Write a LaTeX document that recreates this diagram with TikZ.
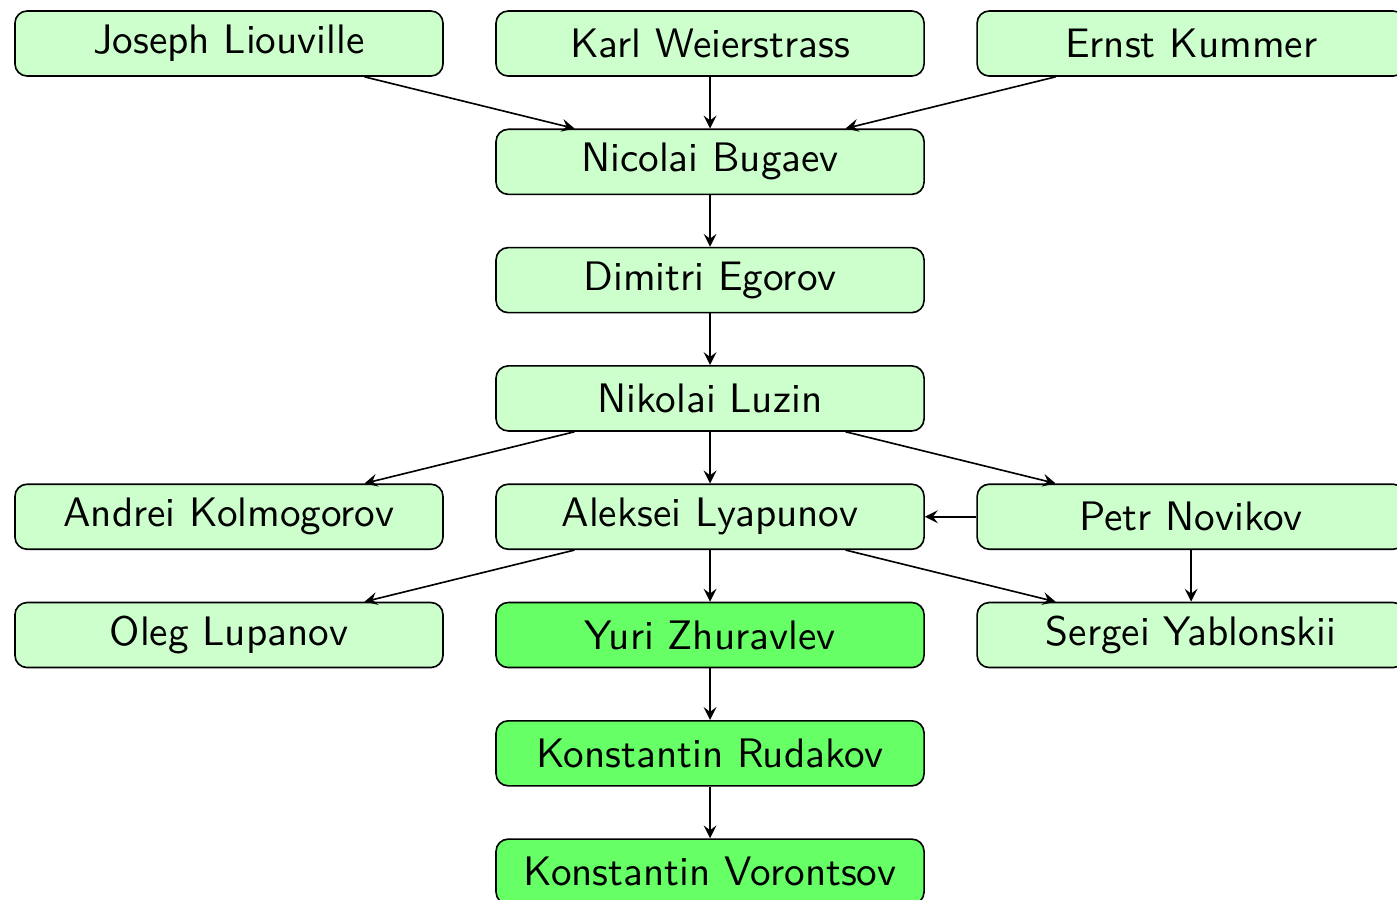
\documentclass[tikz,border=0pt]{standalone}
\usetikzlibrary{arrows}

\begin{document}
\begin{tikzpicture}[
  x=4.164cm,
  y=-1.024cm,
  >=stealth,
  scholar/.style={
    draw,
    rounded corners=3pt,
    fill=green!20,
    font=\sffamily\fontsize{10.15}{12}\selectfont,
    minimum width=3.705cm,
    minimum height=0.563cm,
    inner sep=0pt
  },
  pupil/.style={scholar, fill=green!60}
]
\useasboundingbox (-0.476,-0.368) rectangle (2.428,7.232);

%--------------------
% Fila superior
%--------------------
\node[scholar] (liouville)   at (0,0) {Joseph Liouville};
\node[scholar] (weierstrass) at (1,0) {Karl Weierstrass};
\node[scholar] (kummer)      at (2,0) {Ernst Kummer};

%--------------------
% Columna central
%--------------------
\node[scholar] (bugaev) at (1,1) {Nicolai Bugaev};
\node[scholar] (egorov) at (1,2) {Dimitri Egorov};
\node[scholar] (luzin)  at (1,3) {Nikolai Luzin};

%--------------------
% Alumnos de Luzin
%--------------------
\node[scholar] (kolmogorov) at (0,4) {Andrei Kolmogorov};
\node[scholar] (lyapunov)   at (1,4) {Aleksei Lyapunov};
\node[scholar] (novikov)    at (2,4) {Petr Novikov};

\node[scholar] (lupanov)    at (0,5) {Oleg Lupanov};
\node[pupil]   (zhuravlev)  at (1,5) {Yuri Zhuravlev};
\node[scholar] (yablonskii) at (2,5) {Sergei Yablonskii};

\node[pupil] (rudakov)   at (1,6) {Konstantin Rudakov};
\node[pupil] (vorontsov) at (1,7) {Konstantin Vorontsov};

%--------------------
% Flechas
%--------------------
\foreach \a/\b in {liouville/bugaev, weierstrass/bugaev, kummer/bugaev,
                   bugaev/egorov, egorov/luzin,
                   luzin/kolmogorov, luzin/lyapunov, luzin/novikov,
                   novikov/lyapunov, novikov/yablonskii,
                   lyapunov/lupanov, lyapunov/zhuravlev, lyapunov/yablonskii,
                   zhuravlev/rudakov, rudakov/vorontsov} {
  \draw[->] (\a) -- (\b);
}

\end{tikzpicture}
\end{document}
